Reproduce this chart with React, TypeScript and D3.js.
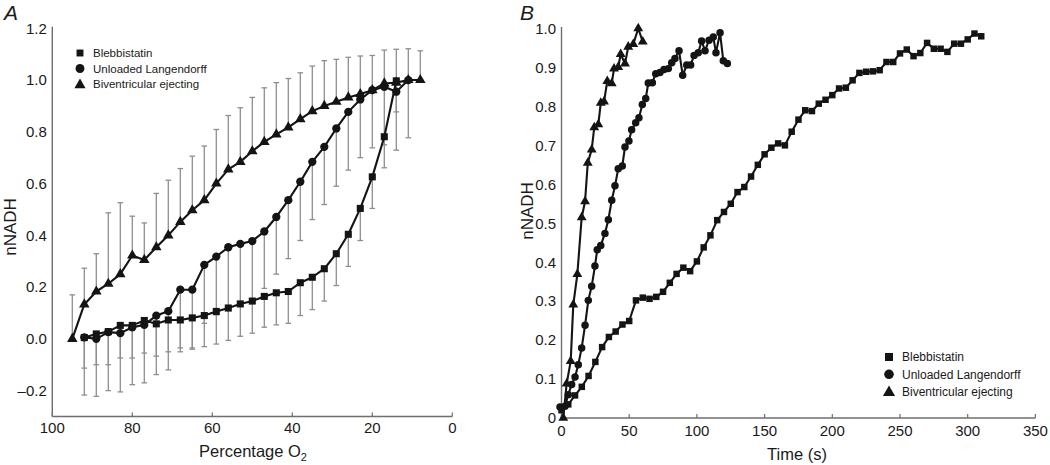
import React from 'react';
import * as d3 from 'd3';

// ---------- Data ----------
const SERIES_NAMES = ['Blebbistatin', 'Unloaded Langendorff', 'Biventricular ejecting'];

// Panel A : nNADH vs percentage O2 (mean, SD)
const A_TRI_X = [95, 92, 89, 86, 83, 80, 77, 74, 71, 68, 65, 62, 59, 56, 53, 50, 47, 44, 41, 38, 35, 32, 29, 26, 23, 20, 17, 14, 11, 8];
const A_TRI_Y = [0.0, 0.133, 0.183, 0.213, 0.25, 0.322, 0.305, 0.354, 0.40, 0.452, 0.497, 0.536, 0.60, 0.655, 0.684, 0.725, 0.761, 0.79, 0.817, 0.849, 0.88, 0.90, 0.916, 0.933, 0.946, 0.961, 0.987, 0.99, 1.0, 1.0];
const A_TRI_SD = [0.17, 0.14, 0.146, 0.274, 0.276, 0.152, 0.143, 0.208, 0.213, 0.206, 0.209, 0.209, 0.209, 0.208, 0.209, 0.208, 0.209, 0.20, 0.189, 0.179, 0.174, 0.175, 0.164, 0.155, 0.147, 0.134, 0.129, 0.129, 0.121, 0.113];

const A_CIR_X = [92, 89, 86, 83, 80, 77, 74, 71, 68, 65, 62, 59, 56, 53, 50, 47, 44, 41, 38, 35, 32, 29, 26, 23, 20, 17, 14, 11];
const A_CIR_Y = [0.006, 0.0, 0.026, 0.022, 0.045, 0.054, 0.09, 0.107, 0.19, 0.19, 0.286, 0.318, 0.354, 0.367, 0.378, 0.415, 0.471, 0.536, 0.607, 0.684, 0.742, 0.813, 0.877, 0.925, 0.961, 0.974, 0.955, 1.0];
const A_CIR_SD = [0.223, 0.222, 0.226, 0.227, 0.222, 0.224, 0.228, 0.227, 0.225, 0.225, 0.226, 0.226, 0.224, 0.227, 0.228, 0.22, 0.221, 0.226, 0.227, 0.223, 0.223, 0.223, 0.225, 0.225, 0.223, 0.224, 0.226, 0.223];

const A_SQ_X = [92, 89, 86, 83, 80, 77, 74, 71, 68, 65, 62, 59, 56, 53, 50, 47, 44, 41, 38, 35, 32, 29, 26, 23, 20, 17, 14];
const A_SQ_Y = [0.005, 0.019, 0.028, 0.052, 0.052, 0.071, 0.058, 0.073, 0.073, 0.081, 0.09, 0.106, 0.119, 0.135, 0.146, 0.164, 0.178, 0.183, 0.217, 0.238, 0.271, 0.329, 0.404, 0.504, 0.626, 0.781, 0.997];
const A_SQ_SD = [0.118, 0.119, 0.128, 0.126, 0.126, 0.126, 0.125, 0.123, 0.123, 0.121, 0.12, 0.126, 0.125, 0.125, 0.124, 0.119, 0.124, 0.123, 0.127, 0.125, 0.125, 0.123, 0.124, 0.124, 0.122, 0.12, 0.12];

const A_X_TICKS = [100, 80, 60, 40, 20, 0];
const A_Y_TICKS = [-0.2, 0.0, 0.2, 0.4, 0.6, 0.8, 1.0, 1.2];

// Panel B : nNADH vs time
const B_SQ_T = [0, 5, 10, 15, 20, 25, 30, 35, 40, 45, 50, 55, 60, 65, 70, 75, 80, 85, 90, 95, 100, 105, 110, 115, 120, 125, 130, 135, 140, 145, 150, 155, 160, 165, 170, 175, 180, 185, 190, 195, 200, 205, 210, 215, 220, 225, 230, 235, 240, 245, 250, 255, 260, 265, 270, 275, 280, 285, 290, 295, 300, 305, 310];
const B_SQ_Y = [0.02, 0.035, 0.058, 0.08, 0.108, 0.144, 0.182, 0.208, 0.222, 0.24, 0.249, 0.302, 0.309, 0.306, 0.311, 0.324, 0.347, 0.37, 0.386, 0.377, 0.402, 0.438, 0.469, 0.508, 0.529, 0.55, 0.58, 0.593, 0.62, 0.65, 0.677, 0.694, 0.705, 0.70, 0.735, 0.766, 0.79, 0.788, 0.807, 0.817, 0.829, 0.846, 0.848, 0.867, 0.886, 0.889, 0.89, 0.893, 0.914, 0.914, 0.936, 0.946, 0.929, 0.937, 0.963, 0.948, 0.948, 0.94, 0.961, 0.961, 0.972, 0.987, 0.98];

const B_CIR_T = [-1.1, 2.6, 5.0, 7.5, 10.0, 12.4, 14.9, 17.4, 19.8, 22.3, 24.7, 26.4, 29.0, 32.1, 34.6, 37.1, 39.5, 41.9, 44.9, 46.9, 49.8, 51.8, 54.8, 57.2, 59.7, 62.2, 64.1, 67.1, 69.6, 72.7, 75.7, 78.9, 81.4, 83.8, 86.8, 89.5, 92.5, 95.4, 97.9, 101.0, 103.5, 106.0, 109.0, 112.1, 114.1, 117.1, 119.5, 122.5];
const B_CIR_Y = [0.028, 0.03, 0.06, 0.086, 0.105, 0.137, 0.18, 0.238, 0.302, 0.338, 0.39, 0.432, 0.443, 0.474, 0.509, 0.559, 0.596, 0.64, 0.647, 0.696, 0.711, 0.74, 0.758, 0.771, 0.805, 0.82, 0.86, 0.861, 0.884, 0.887, 0.895, 0.897, 0.912, 0.923, 0.943, 0.88, 0.906, 0.906, 0.931, 0.938, 0.968, 0.943, 0.97, 0.978, 0.938, 0.989, 0.917, 0.91];

const B_TRI_T = [1.3, 3.8, 6.8, 8.7, 11.7, 14.9, 17.4, 19.4, 22.3, 24.2, 27.2, 29.0, 31.4, 33.8, 37.1, 38.8, 41.9, 43.7, 46.9, 49.3, 53.0, 56.7, 60.0];
const B_TRI_Y = [0, 0.088, 0.146, 0.291, 0.369, 0.515, 0.556, 0.655, 0.689, 0.746, 0.754, 0.809, 0.812, 0.865, 0.859, 0.897, 0.901, 0.934, 0.91, 0.953, 0.96, 1.0, 0.966];

const B_X_TICKS = [0, 50, 100, 150, 200, 250, 300, 350];
const B_Y_TICKS = [0, 0.1, 0.2, 0.3, 0.4, 0.5, 0.6, 0.7, 0.8, 0.9, 1.0];

// ---------- Styles ----------
const FONT = "'Liberation Sans', Arial, Helvetica, sans-serif";
const INK = '#141414';
const AXIS = '#6e6e6e';
const ERR = '#8e8e8e';
const TEXT = '#1a1a1a';

const zip = (xs: number[], ys: number[], sd?: number[]) =>
  xs.map((x, i) => ({ x, y: ys[i], sd: sd ? sd[i] : 0 }));

const symPath = (type: d3.SymbolType, size: number) => d3.symbol().type(type).size(size)() as string;

type Pt = { x: number; y: number; sd: number };

function Series({ data, sx, sy, type, size }: { data: Pt[]; sx: any; sy: any; type: d3.SymbolType; size: number }) {
  const line = d3.line<Pt>().x((d) => sx(d.x)).y((d) => sy(d.y));
  const p = symPath(type, size);
  return (
    <g>
      <path d={line(data) as string} fill="none" stroke={INK} strokeWidth={2.1} strokeLinejoin="round" />
      {data.map((d, i) => (
        <path key={i} d={p} transform={`translate(${sx(d.x)},${sy(d.y)})`} fill={INK} />
      ))}
    </g>
  );
}

function ErrBars({ data, sx, sy, dir }: { data: Pt[]; sx: any; sy: any; dir: 1 | -1 }) {
  const cw = 2.8;
  return (
    <g stroke={ERR} strokeWidth={1.3} fill="none">
      {data.map((d, i) => {
        const x = sx(d.x);
        const y0 = sy(d.y);
        const y1 = sy(d.y + dir * d.sd);
        return (
          <g key={i}>
            <line x1={x} x2={x} y1={y0} y2={y1} />
            <line x1={x - cw} x2={x + cw} y1={y1} y2={y1} />
          </g>
        );
      })}
    </g>
  );
}

function Legend({ x, y, dy, fs, sizes }: { x: number; y: number; dy: number; fs: number; sizes: number[] }) {
  const types = [d3.symbolSquare, d3.symbolCircle, d3.symbolTriangle];
  return (
    <g>
      {SERIES_NAMES.map((name, i) => (
        <g key={name} transform={`translate(${x},${y + i * dy})`}>
          <path d={symPath(types[i], sizes[i])} fill={INK} transform={i === 2 ? 'translate(0,1)' : undefined} />
          <text x={13} y={fs * 0.36} fontSize={fs} fontFamily={FONT} fill={TEXT}>
            {name}
          </text>
        </g>
      ))}
    </g>
  );
}

export default function App() {
  // Panel A scales
  const ax = d3.scaleLinear().domain([100, 0]).range([52.3, 452.3]);
  const ay = d3.scaleLinear().domain([-0.3, 1.2]).range([416.5, 28.3]);
  // Panel B scales
  const bx = d3.scaleLinear().domain([0, 350]).range([561.5, 1035.4]);
  const by = d3.scaleLinear().domain([0, 1]).range([418, 28.5]);

  const aTri = zip(A_TRI_X, A_TRI_Y, A_TRI_SD);
  const aCir = zip(A_CIR_X, A_CIR_Y, A_CIR_SD);
  const aSq = zip(A_SQ_X, A_SQ_Y, A_SQ_SD);

  const bSq = zip(B_SQ_T, B_SQ_Y);
  const bCir = zip(B_CIR_T, B_CIR_Y);
  const bTri = zip(B_TRI_T, B_TRI_Y);

  const fmtA = (v: number) => (v < 0 ? '\u2013' + Math.abs(v).toFixed(1) : v.toFixed(1));
  const fmtB = (v: number) => (v === 0 ? '0' : v.toFixed(1));

  const tickFs = 15;
  const titleFs = 16.5;

  const aX0 = ax.range()[0], aX1 = ax.range()[1];
  const aYb = ay.range()[0];
  const bX0 = bx.range()[0], bX1 = bx.range()[1];
  const bYb = by.range()[0];

  return (
    <svg width={1050} height={465} style={{ position: 'absolute', left: 0, top: 0, background: '#fff' }}>
      <rect width={1050} height={465} fill="#fff" />

      {/* ---------------- Panel A ---------------- */}
      <text x={4} y={20} fontSize={21} fontStyle="italic" fontFamily={FONT} fill={TEXT}>A</text>

      {/* axes */}
      <line x1={aX0} x2={aX0} y1={aYb} y2={ay(1.2) - 1.5} stroke={AXIS} strokeWidth={1.4} />
      <line x1={aX0} x2={aX1} y1={aYb} y2={aYb} stroke={AXIS} strokeWidth={1.4} />
      {A_X_TICKS.map((t) => (
        <g key={t}>
          <line x1={ax(t)} x2={ax(t)} y1={aYb} y2={aYb - 4} stroke={AXIS} strokeWidth={1.2} />
          <text x={ax(t)} y={432.8} textAnchor="middle" fontSize={tickFs} fontFamily={FONT} fill={TEXT}>{t}</text>
        </g>
      ))}
      {A_Y_TICKS.map((t) => (
        <text key={t} x={aX0 - 5.5} y={ay(t) + 5.3} textAnchor="end" fontSize={tickFs} fontFamily={FONT} fill={TEXT}>{fmtA(t)}</text>
      ))}
      <text x={253} y={457} textAnchor="middle" fontSize={titleFs} fontFamily={FONT} fill={TEXT}>
        Percentage O<tspan fontSize={11} dy={4}>2</tspan>
      </text>
      <text transform={`translate(16,227) rotate(-90)`} textAnchor="middle" fontSize={17} fontFamily={FONT} fill={TEXT}>nNADH</text>

      {/* error bars */}
      <ErrBars data={aTri} sx={ax} sy={ay} dir={1} />
      <ErrBars data={aCir} sx={ax} sy={ay} dir={-1} />
      <ErrBars data={aSq} sx={ax} sy={ay} dir={-1} />

      {/* series */}
      <Series data={aSq} sx={ax} sy={ay} type={d3.symbolSquare} size={50} />
      <Series data={aCir} sx={ax} sy={ay} type={d3.symbolCircle} size={54} />
      <Series data={aTri} sx={ax} sy={ay} type={d3.symbolTriangle} size={48} />

      <Legend x={80} y={53} dy={15.5} fs={11.5} sizes={[48, 62, 54]} />

      {/* ---------------- Panel B ---------------- */}
      <text x={520} y={20} fontSize={21} fontStyle="italic" fontFamily={FONT} fill={TEXT}>B</text>

      <line x1={bX0} x2={bX0} y1={bYb} y2={by(1) - 1.5} stroke={AXIS} strokeWidth={1.4} />
      <line x1={bX0} x2={bX1} y1={bYb} y2={bYb} stroke={AXIS} strokeWidth={1.4} />
      {B_X_TICKS.map((t) => (
        <g key={t}>
          <line x1={bx(t)} x2={bx(t)} y1={bYb} y2={bYb - 4} stroke={AXIS} strokeWidth={1.2} />
          <text x={bx(t)} y={435.5} textAnchor="middle" fontSize={tickFs} fontFamily={FONT} fill={TEXT}>{t}</text>
        </g>
      ))}
      {B_Y_TICKS.map((t) => (
        <text key={t} x={bX0 - 5.5} y={by(t) + 5.3} textAnchor="end" fontSize={tickFs} fontFamily={FONT} fill={TEXT}>{fmtB(t)}</text>
      ))}
      <text x={797} y={460} textAnchor="middle" fontSize={titleFs} fontFamily={FONT} fill={TEXT}>Time (s)</text>
      <text transform={`translate(533,211) rotate(-90)`} textAnchor="middle" fontSize={17} fontFamily={FONT} fill={TEXT}>nNADH</text>

      <Series data={bSq} sx={bx} sy={by} type={d3.symbolSquare} size={42} />
      <Series data={bCir} sx={bx} sy={by} type={d3.symbolCircle} size={44} />
      <Series data={bTri} sx={bx} sy={by} type={d3.symbolTriangle} size={42} />

      <Legend x={889} y={357} dy={17.3} fs={12} sizes={[64, 72, 64]} />
    </svg>
  );
}
